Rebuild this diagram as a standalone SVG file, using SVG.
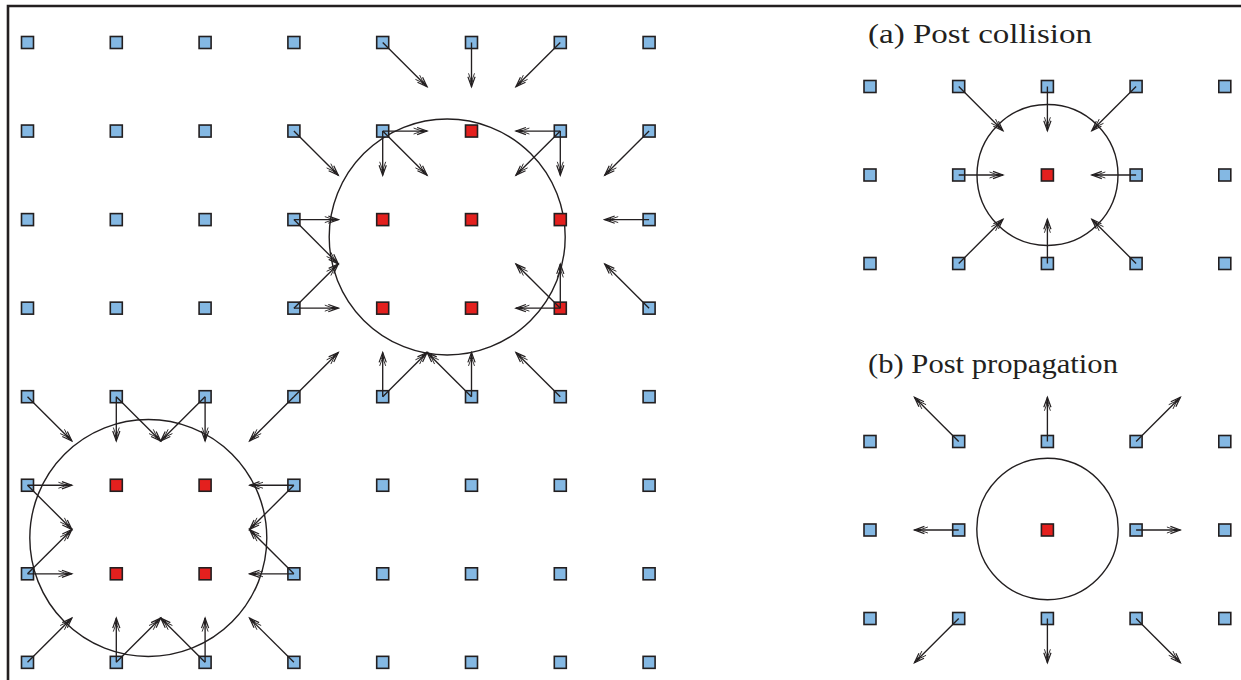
<svg xmlns="http://www.w3.org/2000/svg" xmlns:xlink="http://www.w3.org/1999/xlink" width="1241" height="680" viewBox="0 0 1241 680">
<style>
.frame{stroke:#231f20;stroke-width:2.6;fill:none}
.bnd{fill:none;stroke:#231f20;stroke-width:1.4}
.c line{stroke:#231f20;stroke-width:1.35;marker-end:url(#ah)}
.lbl{font-family:"Liberation Serif","Times New Roman",serif;font-size:27px;fill:#231f20}
</style>
<defs>
<rect id="b" x="-6" y="-6" width="12" height="12" fill="#84b8e3" stroke="#231f20" stroke-width="1.6"/>
<rect id="r" x="-6" y="-6" width="12" height="12" fill="#e4201e" stroke="#231f20" stroke-width="1.6"/>
<marker id="ah" viewBox="-15 -5 17 10" refX="0" refY="0" markerWidth="17" markerHeight="10" markerUnits="userSpaceOnUse" orient="auto">
<path d="M-10,-3.6 L0,0 L-10,3.6" fill="none" stroke="#231f20" stroke-width="1.2"/>
<path d="M-13.5,-3 L-5,0 L-13.5,3" fill="none" stroke="#231f20" stroke-width="0.9"/>
<path d="M0.5,0 L-6.5,-1.6 L-6.5,1.6 z" fill="#231f20"/>
</marker>
</defs>
<rect width="1241" height="680" fill="#ffffff"/>
<path class="frame" d="M8,680 L8,6 L1241,6"/>
<g id="labels">
<text class="lbl" x="868" y="43" textLength="224" lengthAdjust="spacingAndGlyphs">(a) Post collision</text>
<text class="lbl" x="868" y="373" textLength="250" lengthAdjust="spacingAndGlyphs">(b) Post propagation</text>
</g>
<g id="boundaries">
<circle class="bnd" cx="447.2" cy="237" r="118"/>
<circle class="bnd" cx="148.3" cy="538" r="118.5"/>
<circle class="bnd" cx="1047.5" cy="175" r="70.5"/>
<circle class="bnd" cx="1047.5" cy="529" r="70.7"/>
</g>
<g id="nodes-main">
<g id="m-0-0" transform="translate(27.5 42.5)"><use href="#b"/></g>
<g id="m-1-0" transform="translate(116.3 42.5)"><use href="#b"/></g>
<g id="m-2-0" transform="translate(205.1 42.5)"><use href="#b"/></g>
<g id="m-3-0" transform="translate(293.9 42.5)"><use href="#b"/></g>
<g id="m-4-0" transform="translate(382.7 42.5)"><use href="#b"/></g>
<g id="m-5-0" transform="translate(471.5 42.5)"><use href="#b"/></g>
<g id="m-6-0" transform="translate(560.3 42.5)"><use href="#b"/></g>
<g id="m-7-0" transform="translate(649.1 42.5)"><use href="#b"/></g>
<g id="m-0-1" transform="translate(27.5 131.05)"><use href="#b"/></g>
<g id="m-1-1" transform="translate(116.3 131.05)"><use href="#b"/></g>
<g id="m-2-1" transform="translate(205.1 131.05)"><use href="#b"/></g>
<g id="m-3-1" transform="translate(293.9 131.05)"><use href="#b"/></g>
<g id="m-4-1" transform="translate(382.7 131.05)"><use href="#b"/></g>
<g id="m-5-1" transform="translate(471.5 131.05)"><use href="#r"/></g>
<g id="m-6-1" transform="translate(560.3 131.05)"><use href="#b"/></g>
<g id="m-7-1" transform="translate(649.1 131.05)"><use href="#b"/></g>
<g id="m-0-2" transform="translate(27.5 219.6)"><use href="#b"/></g>
<g id="m-1-2" transform="translate(116.3 219.6)"><use href="#b"/></g>
<g id="m-2-2" transform="translate(205.1 219.6)"><use href="#b"/></g>
<g id="m-3-2" transform="translate(293.9 219.6)"><use href="#b"/></g>
<g id="m-4-2" transform="translate(382.7 219.6)"><use href="#r"/></g>
<g id="m-5-2" transform="translate(471.5 219.6)"><use href="#r"/></g>
<g id="m-6-2" transform="translate(560.3 219.6)"><use href="#r"/></g>
<g id="m-7-2" transform="translate(649.1 219.6)"><use href="#b"/></g>
<g id="m-0-3" transform="translate(27.5 308.15)"><use href="#b"/></g>
<g id="m-1-3" transform="translate(116.3 308.15)"><use href="#b"/></g>
<g id="m-2-3" transform="translate(205.1 308.15)"><use href="#b"/></g>
<g id="m-3-3" transform="translate(293.9 308.15)"><use href="#b"/></g>
<g id="m-4-3" transform="translate(382.7 308.15)"><use href="#r"/></g>
<g id="m-5-3" transform="translate(471.5 308.15)"><use href="#r"/></g>
<g id="m-6-3" transform="translate(560.3 308.15)"><use href="#r"/></g>
<g id="m-7-3" transform="translate(649.1 308.15)"><use href="#b"/></g>
<g id="m-0-4" transform="translate(27.5 396.7)"><use href="#b"/></g>
<g id="m-1-4" transform="translate(116.3 396.7)"><use href="#b"/></g>
<g id="m-2-4" transform="translate(205.1 396.7)"><use href="#b"/></g>
<g id="m-3-4" transform="translate(293.9 396.7)"><use href="#b"/></g>
<g id="m-4-4" transform="translate(382.7 396.7)"><use href="#b"/></g>
<g id="m-5-4" transform="translate(471.5 396.7)"><use href="#b"/></g>
<g id="m-6-4" transform="translate(560.3 396.7)"><use href="#b"/></g>
<g id="m-7-4" transform="translate(649.1 396.7)"><use href="#b"/></g>
<g id="m-0-5" transform="translate(27.5 485.25)"><use href="#b"/></g>
<g id="m-1-5" transform="translate(116.3 485.25)"><use href="#r"/></g>
<g id="m-2-5" transform="translate(205.1 485.25)"><use href="#r"/></g>
<g id="m-3-5" transform="translate(293.9 485.25)"><use href="#b"/></g>
<g id="m-4-5" transform="translate(382.7 485.25)"><use href="#b"/></g>
<g id="m-5-5" transform="translate(471.5 485.25)"><use href="#b"/></g>
<g id="m-6-5" transform="translate(560.3 485.25)"><use href="#b"/></g>
<g id="m-7-5" transform="translate(649.1 485.25)"><use href="#b"/></g>
<g id="m-0-6" transform="translate(27.5 573.8)"><use href="#b"/></g>
<g id="m-1-6" transform="translate(116.3 573.8)"><use href="#r"/></g>
<g id="m-2-6" transform="translate(205.1 573.8)"><use href="#r"/></g>
<g id="m-3-6" transform="translate(293.9 573.8)"><use href="#b"/></g>
<g id="m-4-6" transform="translate(382.7 573.8)"><use href="#b"/></g>
<g id="m-5-6" transform="translate(471.5 573.8)"><use href="#b"/></g>
<g id="m-6-6" transform="translate(560.3 573.8)"><use href="#b"/></g>
<g id="m-7-6" transform="translate(649.1 573.8)"><use href="#b"/></g>
<g id="m-0-7" transform="translate(27.5 662.35)"><use href="#b"/></g>
<g id="m-1-7" transform="translate(116.3 662.35)"><use href="#b"/></g>
<g id="m-2-7" transform="translate(205.1 662.35)"><use href="#b"/></g>
<g id="m-3-7" transform="translate(293.9 662.35)"><use href="#b"/></g>
<g id="m-4-7" transform="translate(382.7 662.35)"><use href="#b"/></g>
<g id="m-5-7" transform="translate(471.5 662.35)"><use href="#b"/></g>
<g id="m-6-7" transform="translate(560.3 662.35)"><use href="#b"/></g>
<g id="m-7-7" transform="translate(649.1 662.35)"><use href="#b"/></g>
</g>
<g id="nodes-a">
<g id="a-0-0" transform="translate(870 86.5)"><use href="#b"/></g>
<g id="a-1-0" transform="translate(958.7 86.5)"><use href="#b"/></g>
<g id="a-2-0" transform="translate(1047.4 86.5)"><use href="#b"/></g>
<g id="a-3-0" transform="translate(1136.1 86.5)"><use href="#b"/></g>
<g id="a-4-0" transform="translate(1224.8 86.5)"><use href="#b"/></g>
<g id="a-0-1" transform="translate(870 175)"><use href="#b"/></g>
<g id="a-1-1" transform="translate(958.7 175)"><use href="#b"/></g>
<g id="a-2-1" transform="translate(1047.4 175)"><use href="#r"/></g>
<g id="a-3-1" transform="translate(1136.1 175)"><use href="#b"/></g>
<g id="a-4-1" transform="translate(1224.8 175)"><use href="#b"/></g>
<g id="a-0-2" transform="translate(870 263.5)"><use href="#b"/></g>
<g id="a-1-2" transform="translate(958.7 263.5)"><use href="#b"/></g>
<g id="a-2-2" transform="translate(1047.4 263.5)"><use href="#b"/></g>
<g id="a-3-2" transform="translate(1136.1 263.5)"><use href="#b"/></g>
<g id="a-4-2" transform="translate(1224.8 263.5)"><use href="#b"/></g>
</g>
<g id="nodes-b">
<g id="b-0-0" transform="translate(870 441.5)"><use href="#b"/></g>
<g id="b-1-0" transform="translate(958.7 441.5)"><use href="#b"/></g>
<g id="b-2-0" transform="translate(1047.4 441.5)"><use href="#b"/></g>
<g id="b-3-0" transform="translate(1136.1 441.5)"><use href="#b"/></g>
<g id="b-4-0" transform="translate(1224.8 441.5)"><use href="#b"/></g>
<g id="b-0-1" transform="translate(870 530)"><use href="#b"/></g>
<g id="b-1-1" transform="translate(958.7 530)"><use href="#b"/></g>
<g id="b-2-1" transform="translate(1047.4 530)"><use href="#r"/></g>
<g id="b-3-1" transform="translate(1136.1 530)"><use href="#b"/></g>
<g id="b-4-1" transform="translate(1224.8 530)"><use href="#b"/></g>
<g id="b-0-2" transform="translate(870 618.5)"><use href="#b"/></g>
<g id="b-1-2" transform="translate(958.7 618.5)"><use href="#b"/></g>
<g id="b-2-2" transform="translate(1047.4 618.5)"><use href="#b"/></g>
<g id="b-3-2" transform="translate(1136.1 618.5)"><use href="#b"/></g>
<g id="b-4-2" transform="translate(1224.8 618.5)"><use href="#b"/></g>
</g>
<g id="connectors" class="c">
<line x1="382.7" y1="42.5" x2="427.1" y2="86.8"/>
<line x1="471.5" y1="42.5" x2="471.5" y2="86.8"/>
<line x1="560.3" y1="42.5" x2="515.9" y2="86.8"/>
<line x1="293.9" y1="131.05" x2="338.3" y2="175.3"/>
<line x1="382.7" y1="131.05" x2="427.1" y2="131.05"/>
<line x1="382.7" y1="131.05" x2="382.7" y2="175.3"/>
<line x1="382.7" y1="131.05" x2="427.1" y2="175.3"/>
<line x1="560.3" y1="131.05" x2="515.9" y2="131.05"/>
<line x1="560.3" y1="131.05" x2="560.3" y2="175.3"/>
<line x1="560.3" y1="131.05" x2="515.9" y2="175.3"/>
<line x1="649.1" y1="131.05" x2="604.7" y2="175.3"/>
<line x1="293.9" y1="219.6" x2="338.3" y2="219.6"/>
<line x1="293.9" y1="219.6" x2="338.3" y2="263.9"/>
<line x1="649.1" y1="219.6" x2="604.7" y2="219.6"/>
<line x1="293.9" y1="308.15" x2="338.3" y2="308.15"/>
<line x1="293.9" y1="308.15" x2="338.3" y2="263.9"/>
<line x1="560.3" y1="308.15" x2="515.9" y2="308.15"/>
<line x1="560.3" y1="308.15" x2="560.3" y2="263.9"/>
<line x1="560.3" y1="308.15" x2="515.9" y2="263.9"/>
<line x1="649.1" y1="308.15" x2="604.7" y2="263.9"/>
<line x1="293.9" y1="396.7" x2="338.3" y2="352.4"/>
<line x1="293.9" y1="396.7" x2="249.5" y2="441"/>
<line x1="382.7" y1="396.7" x2="382.7" y2="352.4"/>
<line x1="382.7" y1="396.7" x2="427.1" y2="352.4"/>
<line x1="471.5" y1="396.7" x2="471.5" y2="352.4"/>
<line x1="471.5" y1="396.7" x2="427.1" y2="352.4"/>
<line x1="560.3" y1="396.7" x2="515.9" y2="352.4"/>
<line x1="27.5" y1="396.7" x2="71.9" y2="441"/>
<line x1="116.3" y1="396.7" x2="116.3" y2="441"/>
<line x1="116.3" y1="396.7" x2="160.7" y2="441"/>
<line x1="205.1" y1="396.7" x2="205.1" y2="441"/>
<line x1="205.1" y1="396.7" x2="160.7" y2="441"/>
<line x1="27.5" y1="485.25" x2="71.9" y2="485.25"/>
<line x1="27.5" y1="485.25" x2="71.9" y2="529.5"/>
<line x1="293.9" y1="485.25" x2="249.5" y2="485.25"/>
<line x1="293.9" y1="485.25" x2="249.5" y2="529.5"/>
<line x1="27.5" y1="573.8" x2="71.9" y2="573.8"/>
<line x1="27.5" y1="573.8" x2="71.9" y2="529.5"/>
<line x1="293.9" y1="573.8" x2="249.5" y2="573.8"/>
<line x1="293.9" y1="573.8" x2="249.5" y2="529.5"/>
<line x1="27.5" y1="662.35" x2="71.9" y2="618.1"/>
<line x1="116.3" y1="662.35" x2="116.3" y2="618.1"/>
<line x1="116.3" y1="662.35" x2="160.7" y2="618.1"/>
<line x1="205.1" y1="662.35" x2="205.1" y2="618.1"/>
<line x1="205.1" y1="662.35" x2="160.7" y2="618.1"/>
<line x1="293.9" y1="662.35" x2="249.5" y2="618.1"/>
<line x1="958.7" y1="86.5" x2="1003" y2="130.75"/>
<line x1="1047.4" y1="86.5" x2="1047.4" y2="130.75"/>
<line x1="1136.1" y1="86.5" x2="1091.8" y2="130.75"/>
<line x1="958.7" y1="175" x2="1003" y2="175"/>
<line x1="1136.1" y1="175" x2="1091.8" y2="175"/>
<line x1="958.7" y1="263.5" x2="1003" y2="219.25"/>
<line x1="1047.4" y1="263.5" x2="1047.4" y2="219.25"/>
<line x1="1136.1" y1="263.5" x2="1091.8" y2="219.25"/>
<line x1="958.7" y1="441.5" x2="914.4" y2="397.25"/>
<line x1="1047.4" y1="441.5" x2="1047.4" y2="397.25"/>
<line x1="1136.1" y1="441.5" x2="1180.4" y2="397.25"/>
<line x1="958.7" y1="530" x2="914.4" y2="530"/>
<line x1="1136.1" y1="530" x2="1180.4" y2="530"/>
<line x1="958.7" y1="618.5" x2="914.4" y2="662.75"/>
<line x1="1047.4" y1="618.5" x2="1047.4" y2="662.75"/>
<line x1="1136.1" y1="618.5" x2="1180.4" y2="662.75"/>
</g>
</svg>
